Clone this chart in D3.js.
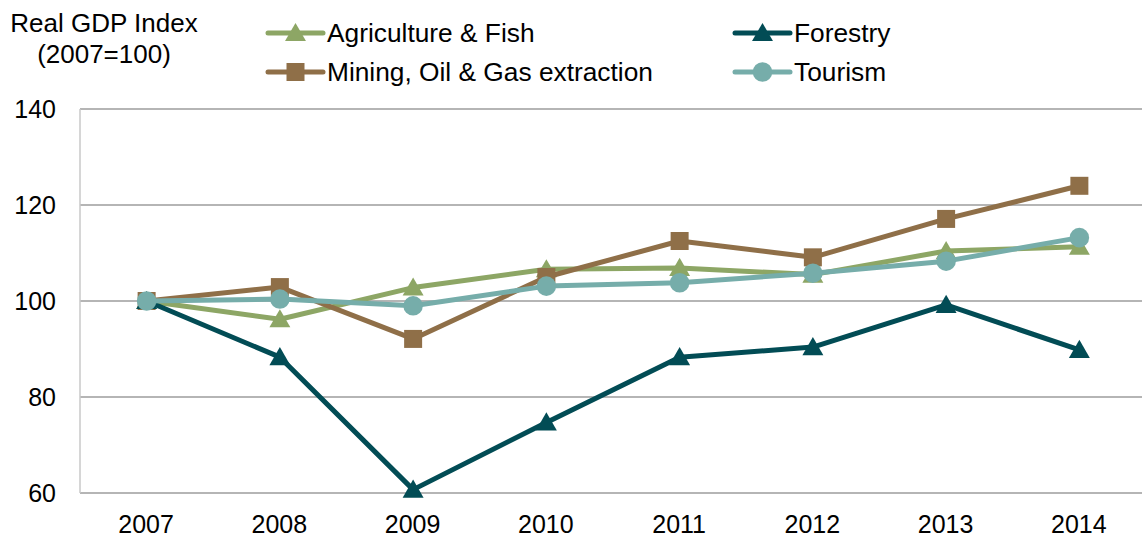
<!DOCTYPE html>
<html>
<head>
<meta charset="utf-8">
<script src="https://cdn.jsdelivr.net/npm/d3@7"></script>
<style>
  body { margin: 0; background: white; }
  svg { display: block; }
</style>
</head>
<body>
<svg></svg>
<script>
const years = ["2007", "2008", "2009", "2010", "2011", "2012", "2013", "2014"];
const agriculture = [100, 96.2, 102.8, 106.6, 106.9, 105.5, 110.4, 111.3];
const mining = [100, 102.9, 92.1, 105.0, 112.5, 109.1, 117.1, 124.0];
const forestry = [100, 88.3, 60.7, 74.7, 88.3, 90.4, 99.2, 89.8];
const tourism = [100, 100.4, 99.0, 103.1, 103.8, 105.8, 108.3, 113.2];
const yTicks = [60, 80, 100, 120, 140];

let width = 1142, height = 538;
let font_family = "Liberation Sans, Arial, sans-serif";
let title_size = 26;
let tick_size = 25;
let legend_size = 26.3;

let series = [
    { name: "Agriculture & Fish", values: agriculture, color: "#8DA665", marker: "triangle" },
    { name: "Mining, Oil & Gas extraction", values: mining, color: "#8F6F48", marker: "square" },
    { name: "Forestry", values: forestry, color: "#024C55", marker: "triangle" },
    { name: "Tourism", values: tourism, color: "#76ADAA", marker: "circle" }
];

let svg = d3.select("svg")
    .attr("width", width)
    .attr("height", height)
    .style("background-color", "white");

let x = d3.scalePoint().domain(years).range([80, 1146]).padding(0.5);
let y = d3.scaleLinear().domain([60, 140]).range([493, 109]);

// gridlines
svg.append("g")
    .selectAll("line")
    .data(yTicks)
    .join("line")
    .attr("x1", 80)
    .attr("x2", width)
    .attr("y1", d => y(d))
    .attr("y2", d => y(d))
    .attr("stroke", "#9d9d9d")
    .attr("stroke-width", 1.5);

// left axis line
svg.append("line")
    .attr("x1", 80).attr("x2", 80)
    .attr("y1", y(140)).attr("y2", y(60))
    .attr("stroke", "#c8c8c8")
    .attr("stroke-width", 1.5);

// y tick labels
let yAxis = svg.append("g")
    .attr("transform", "translate(56,0)")
    .call(d3.axisLeft(y).tickValues(yTicks).tickSize(0).tickPadding(0));
yAxis.select(".domain").remove();
yAxis.selectAll("text")
    .attr("font-size", tick_size + "px")
    .attr("font-family", font_family)
    .attr("fill", "black");

// x tick labels
let xAxis = svg.append("g")
    .attr("transform", "translate(-1,515)")
    .call(d3.axisBottom(x).tickSize(0).tickPadding(0));
xAxis.select(".domain").remove();
xAxis.selectAll("text")
    .attr("font-size", tick_size + "px")
    .attr("font-family", font_family)
    .attr("fill", "black");

function markerPath(type) {
    if (type === "triangle") return d3.symbol(d3.symbolTriangle, 190)();
    if (type === "square") return d3.symbol(d3.symbolSquare, 324)();
    return d3.symbol(d3.symbolCircle, 300)();
}

let line = d3.line()
    .x((d, i) => x(years[i]))
    .y(d => y(d));

series.forEach(s => {
    let g = svg.append("g");
    g.append("path")
        .attr("d", line(s.values))
        .attr("fill", "none")
        .attr("stroke", s.color)
        .attr("stroke-width", 5)
        .attr("stroke-linejoin", "round");
    g.selectAll("path.m")
        .data(s.values)
        .join("path")
        .attr("class", "m")
        .attr("d", markerPath(s.marker))
        .attr("transform", (d, i) => "translate(" + x(years[i]) + "," + (y(d) + (s.marker === "triangle" ? 2 : 0)) + ")")
        .attr("fill", s.color);
});

// title
svg.append("text")
    .attr("x", 104).attr("y", 32)
    .attr("text-anchor", "middle")
    .attr("font-size", title_size + "px")
    .attr("font-family", font_family)
    .text("Real GDP Index");
svg.append("text")
    .attr("x", 104).attr("y", 63)
    .attr("text-anchor", "middle")
    .attr("font-size", title_size + "px")
    .attr("font-family", font_family)
    .text("(2007=100)");

// legend
let legendPos = [[268, 33], [268, 72], [735, 33], [735, 72]];
series.forEach((s, i) => {
    let lx = legendPos[i][0], ly = legendPos[i][1];
    let g = svg.append("g").attr("transform", "translate(" + lx + "," + ly + ")");
    g.append("line")
        .attr("x1", 0).attr("x2", 55)
        .attr("y1", 0).attr("y2", 0)
        .attr("stroke", s.color)
        .attr("stroke-width", 5)
        .attr("stroke-linecap", "round");
    g.append("path")
        .attr("d", markerPath(s.marker))
        .attr("transform", "translate(27.5," + (s.marker === "triangle" ? 2 : 0) + ")")
        .attr("fill", s.color);
    g.append("text")
        .attr("x", 59).attr("y", 0)
        .attr("dy", "0.35em")
        .attr("font-size", legend_size + "px")
        .attr("font-family", font_family)
        .text(s.name);
});
</script>
</body>
</html>
